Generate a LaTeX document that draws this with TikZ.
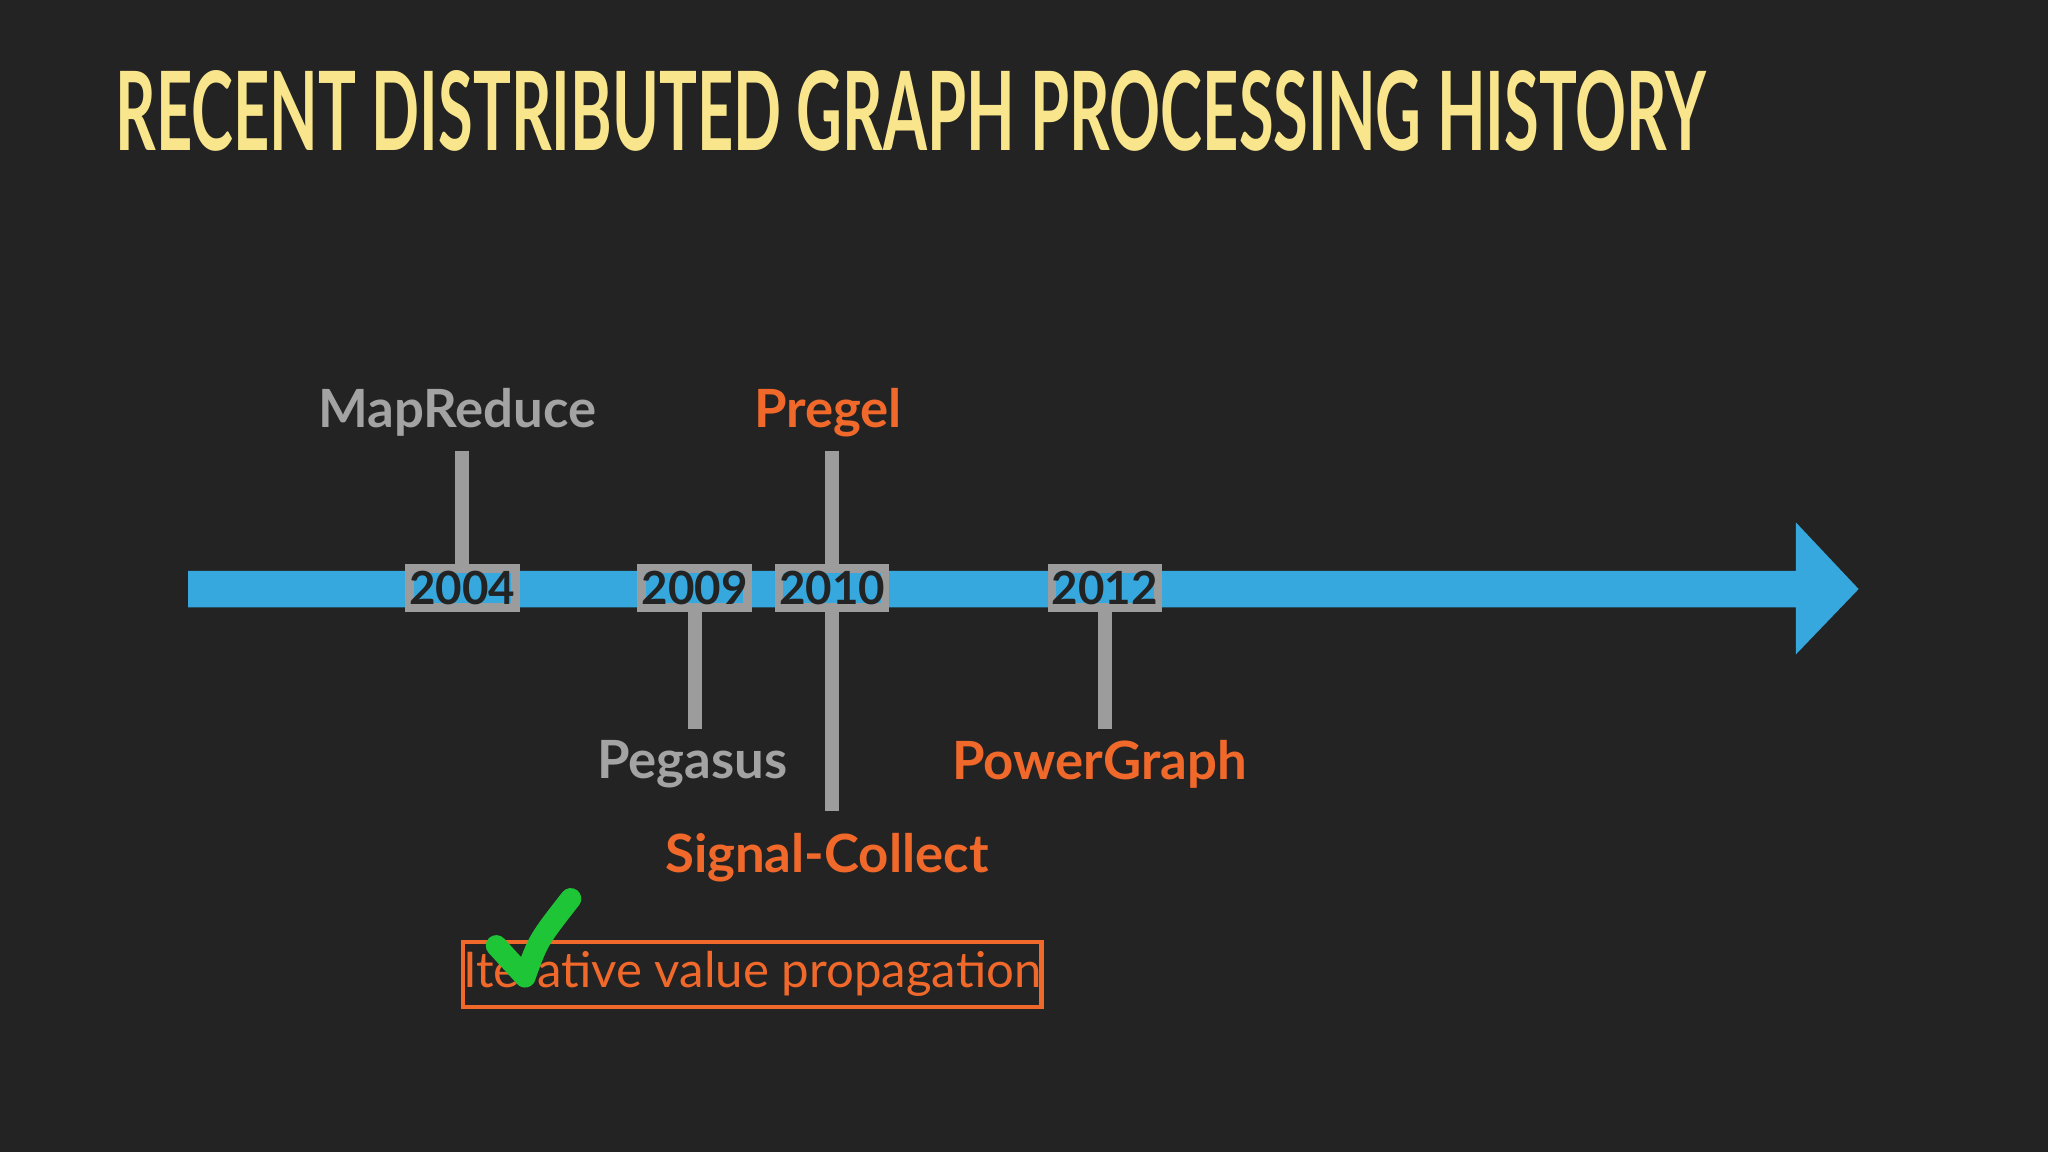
\documentclass[tikz,border=0pt]{standalone}
\usepackage{fontspec}
\setmainfont{Lato}
\usepackage{graphicx}
\usetikzlibrary{arrows,shapes}
\definecolor{bg}{HTML}{232323}
\definecolor{titlecol}{HTML}{F8E58C}
\definecolor{axisblue}{HTML}{36A8DD}
\definecolor{stemgray}{HTML}{9C9C9C}
\definecolor{labgray}{HTML}{A3A3A3}
\definecolor{laborange}{HTML}{F0692B}
\definecolor{checkgreen}{HTML}{1EC536}
\tikzset{
	year/.style={draw=stemgray, line width=2.5pt, fill=axisblue, text=bg, font=\fontsize{13}{13}\selectfont\bfseries, minimum width=1.05cm, minimum height=0.39cm, inner sep=0pt},
	stem/.style={stemgray, line width=4pt},
	event/.style={font=\fontsize{15}{15}\selectfont\bfseries},
}
\begin{document}
\begin{tikzpicture}[x=0.013061cm, y=-0.013061cm]

	\fill[bg] (0,0) rectangle (1568,882);
	\useasboundingbox (0,0) rectangle (1568,882);

	\node[text=titlecol, anchor=west, inner sep=0pt](title) at (88,85) {\resizebox{15.9cm}{0.8cm}{\bfseries RECENT DISTRIBUTED GRAPH PROCESSING HISTORY}};

	% Timeline
	\fill[axisblue] (144,437) -- (1375,437) -- (1375,400) -- (1423,451) -- (1375,501) -- (1375,465) -- (144,465) -- cycle;

	% Stems
	\coordinate (mr-top) at (354,345);
	\coordinate (pr-top) at (637,345);
	\coordinate (pe-bot) at (532,558);
	\coordinate (sc-bot) at (637,621);
	\coordinate (pg-bot) at (846,558);

	\draw[stem] (mr-top) -- (354,440);
	\draw[stem] (pr-top) -- (sc-bot);
	\draw[stem] (532,460) -- (pe-bot);
	\draw[stem] (846,460) -- (pg-bot);

	% Years
	\node[year](y2004) at (354,450) {2004};
	\node[year](y2009) at (532,450) {2009};
	\node[year](y2010) at (637,450) {2010};
	\node[year](y2012) at (846,450) {2012};

	% Events
	\node[event, text=labgray](mapreduce) at (350,316) {MapReduce};
	\node[event, text=laborange](pregel) at (634,316) {Pregel};
	\node[event, text=labgray](pegasus) at (530,585) {Pegasus};
	\node[event, text=laborange](signal) at (633,657) {Signal-Collect};
	\node[event, text=laborange](powergraph) at (842,585) {PowerGraph};

	% Note
	\node[draw=laborange, line width=1.3pt, text=laborange, font=\fontsize{14}{14}\selectfont, minimum width=4.42cm, minimum height=0.65cm, inner sep=0pt](note) at (576,746) {Iterative value propagation};
	\draw[checkgreen, line width=6pt, line cap=round, line join=round] (380,724) -- (402,748) .. controls (412,720) .. (437,688);

\end{tikzpicture}
\end{document}
